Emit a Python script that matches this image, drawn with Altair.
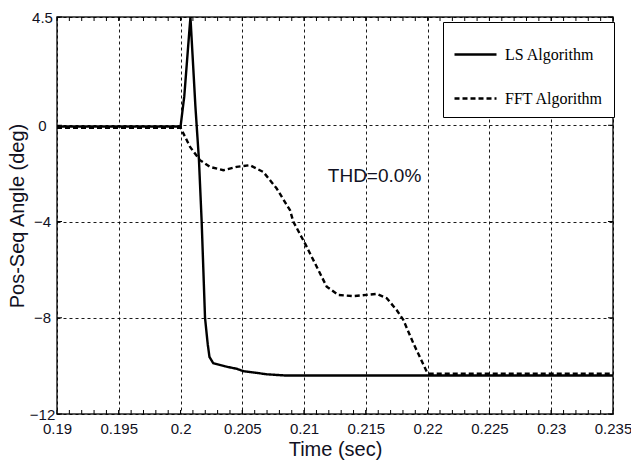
import altair as alt
import pandas as pd

# LS algorithm estimate of the positive-sequence angle
ls_time = [0.19, 0.2, 0.2003, 0.2008, 0.2012, 0.20149, 0.20171, 0.20198, 0.2022,
           0.20234, 0.20265, 0.2036, 0.20454, 0.20508, 0.20643, 0.20697, 0.2085, 0.235]
ls_angle = [-0.05, -0.05, 1.2, 4.5, 0.8, -1.45, -4.02, -8.0, -9.1,
            -9.63, -9.89, -10.02, -10.12, -10.22, -10.31, -10.35, -10.4, -10.4]

# FFT algorithm estimate of the positive-sequence angle
fft_time = [0.19, 0.2, 0.20077, 0.20157, 0.20238, 0.20346, 0.20454, 0.20562, 0.2067,
            0.20778, 0.20886, 0.20913, 0.21007, 0.21102, 0.21183, 0.21277, 0.21398,
            0.21507, 0.21588, 0.21669, 0.21749, 0.21803, 0.21884, 0.21992, 0.2201, 0.235]
fft_angle = [-0.1, -0.1, -0.9, -1.45, -1.73, -1.87, -1.73, -1.66, -1.94,
             -2.63, -3.53, -4.01, -4.91, -5.88, -6.71, -7.05, -7.1,
             -7.05, -7.01, -7.19, -7.68, -8.09, -9.06, -10.24, -10.33, -10.33]

series_names = ["LS Algorithm", "FFT Algorithm"]

x_major = [0.19, 0.195, 0.2, 0.205, 0.21, 0.215, 0.22, 0.225, 0.23, 0.235]
x_minor = [round(0.19 + 0.001 * i, 3) for i in range(1, 45)]
y_major = [4.5, 0, -4, -8, -12]

annotation = "THD=0.0%"
annotation_t, annotation_v = 0.2157, -2.1

W, H = 556, 397
SANS = "Liberation Sans Narrow, Arial Narrow, Liberation Sans, Arial"
INK = "#111122"

lines = pd.concat([
    pd.DataFrame({"t": ls_time, "v": ls_angle, "series": series_names[0], "order": range(len(ls_time))}),
    pd.DataFrame({"t": fft_time, "v": fft_angle, "series": series_names[1], "order": range(len(fft_time))}),
])

x_scale = alt.Scale(domain=[0.19, 0.235], nice=False, zero=False)
y_scale = alt.Scale(domain=[-12, 4.5], nice=False, zero=False)

curves = alt.Chart(lines).mark_line(color="black", strokeWidth=2.4, clip=True).encode(
    x=alt.X("t:Q", scale=x_scale,
            axis=alt.Axis(values=x_major, format="~g", title="Time (sec)", grid=True,
                          labelFlush=False, labelOverlap=False,
                          labelFont=SANS, labelFontSize=15, labelColor=INK, labelPadding=7,
                          titleFont=SANS, titleFontSize=20, titleFontWeight="normal",
                          titleColor=INK, titlePadding=3)),
    y=alt.Y("v:Q", scale=y_scale,
            axis=alt.Axis(values=y_major, format="~g", title="Pos-Seq Angle (deg)", grid=True,
                          labelFlush=False, labelOverlap=False,
                          labelFont=SANS, labelFontSize=15, labelColor=INK,
                          labelAlign="center", labelBaseline="middle", labelPadding=15,
                          titleFont="Liberation Sans, Arial", titleFontSize=20,
                          titleFontWeight="normal", titleColor=INK, titlePadding=2)),
    strokeDash=alt.StrokeDash(
        "series:N",
        scale=alt.Scale(domain=series_names, range=[[1, 0], [5, 3]]),
        legend=alt.Legend(
            title=None, orient="none", legendX=386, legendY=5,
            symbolType="stroke", symbolSize=1764, symbolStrokeWidth=2.5,
            symbolStrokeColor="black", labelFont="Liberation Serif, Times New Roman, serif",
            labelFontSize=16, labelColor="black", labelOffset=7, rowPadding=13,
            padding=10, strokeColor="black", fillColor="white", cornerRadius=0,
        ),
    ),
    order="order:Q",
)

x_ticks_df = pd.DataFrame({"t": x_minor + x_major})
bottom_ticks = alt.Chart(x_ticks_df).mark_rule(color="black", strokeWidth=1).encode(
    x=alt.X("t:Q", scale=x_scale),
    y=alt.value(H),
    y2=alt.value(H - 4),
)
top_ticks = alt.Chart(x_ticks_df).mark_rule(color="black", strokeWidth=1).encode(
    x=alt.X("t:Q", scale=x_scale),
    y=alt.value(0),
    y2=alt.value(4),
)
y_ticks_df = pd.DataFrame({"v": y_major})
left_ticks = alt.Chart(y_ticks_df).mark_rule(color="black", strokeWidth=1).encode(
    y=alt.Y("v:Q", scale=y_scale),
    x=alt.value(0),
    x2=alt.value(5),
)
right_ticks = alt.Chart(y_ticks_df).mark_rule(color="black", strokeWidth=1).encode(
    y=alt.Y("v:Q", scale=y_scale),
    x=alt.value(W),
    x2=alt.value(W - 5),
)

label = alt.Chart(pd.DataFrame({"t": [annotation_t], "v": [annotation_v], "txt": [annotation]})).mark_text(
    font=SANS, fontSize=19, color=INK, align="center", baseline="middle"
).encode(
    x=alt.X("t:Q", scale=x_scale),
    y=alt.Y("v:Q", scale=y_scale),
    text="txt:N",
)

chart = alt.layer(
    curves, bottom_ticks, top_ticks, left_ticks, right_ticks, label
).properties(
    width=W, height=H,
    autosize=alt.AutoSizeParams(type="none"),
    padding={"left": 57, "top": 17, "right": 18, "bottom": 53},
    background="white",
).configure_view(
    stroke="#222222", strokeWidth=1.5
).configure_axis(
    domain=False, ticks=False, gridColor="black", gridDash=[3, 3],
    gridWidth=0.9, gridOpacity=1,
)

chart.save("out.html", embed_options={"renderer": "svg", "actions": False})
